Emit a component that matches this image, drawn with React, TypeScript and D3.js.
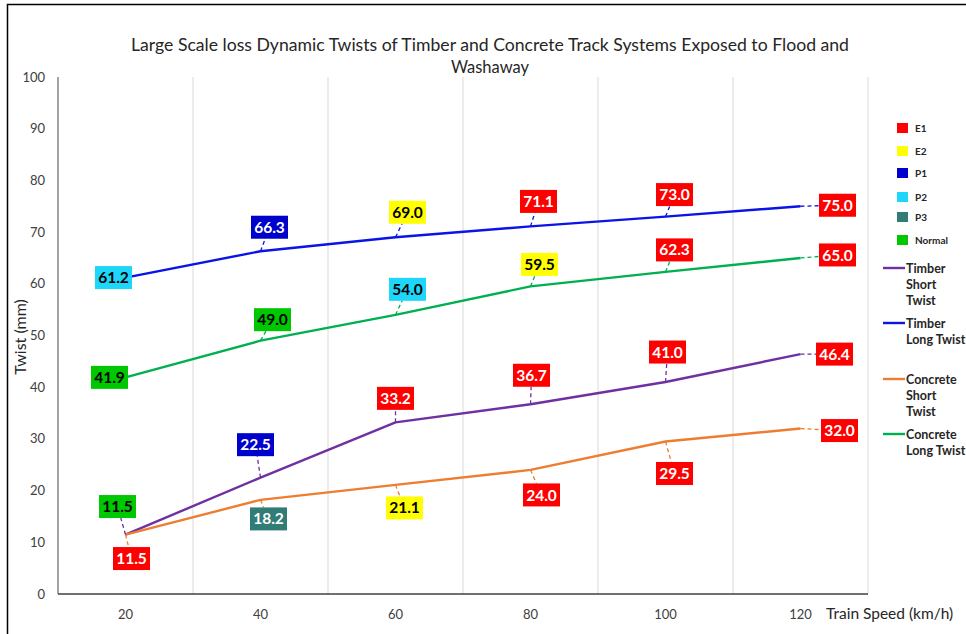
import React from 'react';
import * as d3 from 'd3';

const categories = ['20', '40', '60', '80', '100', '120'];
const timberShort = [11.5, 22.5, 33.2, 36.7, 41.0, 46.4];
const timberLong = [61.2, 66.3, 69.0, 71.1, 73.0, 75.0];
const concreteShort = [11.5, 18.2, 21.1, 24.0, 29.5, 32.0];
const concreteLong = [41.9, 49.0, 54.0, 59.5, 62.3, 65.0];

const timberShortClass = ['Normal', 'P1', 'E1', 'E1', 'E1', 'E1'];
const timberLongClass = ['P2', 'P1', 'E2', 'E1', 'E1', 'E1'];
const concreteShortClass = ['E1', 'P3', 'E2', 'E1', 'E1', 'E1'];
const concreteLongClass = ['Normal', 'Normal', 'P2', 'E2', 'E1', 'E1'];

const yTicks = [0, 10, 20, 30, 40, 50, 60, 70, 80, 90, 100];
const classNames = ['E1', 'E2', 'P1', 'P2', 'P3', 'Normal'];
const seriesNames = ['Timber Short Twist', 'Timber Long Twist', 'Concrete Short Twist', 'Concrete Long Twist'];

const title1 = 'Large Scale loss Dynamic Twists of Timber and Concrete Track Systems Exposed to Flood and';
const title2 = 'Washaway';

// styling / layout (not data)
const classFill: Record<string, string> = {
  E1: '#ff0000', E2: '#ffff00', P1: '#0000cc', P2: '#1ed6fa', P3: '#317c77', Normal: '#00c800',
};
const classText: Record<string, string> = {
  E1: '#ffffff', E2: '#000000', P1: '#ffffff', P2: '#000000', P3: '#ffffff', Normal: '#000000',
};
const seriesColor = ['#7030a0', '#0a14e6', '#ed7d31', '#00b050'];
// label centre offsets (px) relative to the data point
const labelOffsets: [number, number][][] = [
  [[-8, -28], [-5, -33], [0, -24], [1, -29], [2, -30], [34, 0]],
  [[-12, 0], [9, -24], [12, -25], [8, -25], [9, -22], [37, -1]],
  [[6, 24], [8, 19], [9, 23], [11, 25], [9, 32], [39, 2]],
  [[-16, 0], [12, -21], [12, -25.5], [9, -22], [9, -22], [37, -3]],
];
const legendLineY = [[268, 284, 300], [323, 339], [379, 395, 411], [434, 450]];
const legendLines = [['Timber', 'Short', 'Twist'], ['Timber', 'Long Twist'], ['Concrete', 'Short', 'Twist'], ['Concrete', 'Long Twist']];
const legendSquareY = [128, 151, 173, 197, 217, 240];

const FONT = 'Lato, "Open Sans", sans-serif';

export default function App() {
  const W = 966, H = 634;
  const x = d3.scaleBand().domain(categories).range([58, 868]);
  const y = d3.scaleLinear().domain([0, 100]).range([594, 77]);
  const cx = (c: string) => (x(c) as number) + x.bandwidth() / 2;

  const seriesData = [timberShort, timberLong, concreteShort, concreteLong];
  const seriesClass = [timberShortClass, timberLongClass, concreteShortClass, concreteLongClass];

  const line = d3.line<number>().x((_, i) => cx(categories[i])).y((d) => y(d));

  const BW = 37, BH = 23;

  const labels: React.ReactNode[] = [];
  const leaders: React.ReactNode[] = [];
  seriesData.forEach((vals, si) => {
    vals.forEach((v, i) => {
      const px = cx(categories[i]);
      const py = y(v);
      const [dx, dy] = labelOffsets[si][i];
      const lx = px + dx, ly = py + dy;
      const hw = BW / 2, hh = BH / 2;
      const adx = Math.abs(dx), ady = Math.abs(dy);
      if (adx > hw || ady > hh) {
        const t = Math.min(adx > 0 ? hw / adx : Infinity, ady > 0 ? hh / ady : Infinity);
        const ex = lx - dx * t, ey = ly - dy * t;
        leaders.push(
          <line key={`ld${si}-${i}`} x1={px} y1={py} x2={ex} y2={ey}
            stroke={seriesColor[si]} strokeWidth={1.3} strokeDasharray="4,3" />
        );
      }
      const cls = seriesClass[si][i];
      labels.push(
        <g key={`lb${si}-${i}`}>
          <rect x={lx - hw} y={ly - hh} width={BW} height={BH} fill={classFill[cls]} />
          <text x={lx} y={ly} dy="0.36em" textAnchor="middle" fontFamily={FONT}
            fontWeight={700} fontSize={15.5} fill={classText[cls]}>{v.toFixed(1)}</text>
        </g>
      );
    });
  });

  return (
    <svg width={W} height={H} style={{ position: 'absolute', left: 0, top: 0, background: '#fff' }}
      fontFamily={FONT}>
      <rect x={0} y={0} width={W} height={H} fill="#fff" />
      <path d={`M7.5,${H} V4.5 H${W}`} fill="none" stroke="#000" strokeWidth={1.5} />
      <text x={490} y={51} textAnchor="middle" fontSize={16.5} fill="#262626"
        textLength={718} lengthAdjust="spacingAndGlyphs">{title1}</text>
      <text x={490} y={73} textAnchor="middle" fontSize={16.5} fill="#262626">{title2}</text>

      {categories.map((c) => (
        <line key={`g${c}`} x1={(x(c) as number) + x.bandwidth()} x2={(x(c) as number) + x.bandwidth()}
          y1={77} y2={594} stroke="#d9d9d9" strokeWidth={1} />
      ))}
      <line x1={58} x2={58} y1={77} y2={594} stroke="#868686" strokeWidth={1.5} />
      <line x1={58} x2={868} y1={594} y2={594} stroke="#404040" strokeWidth={1.5} />

      {yTicks.map((t) => (
        <text key={`y${t}`} x={45} y={y(t)} dy="0.35em" textAnchor="end" fontSize={13} fill="#404040">{t}</text>
      ))}
      {categories.map((c) => (
        <text key={`x${c}`} x={cx(c)} y={614} dy="0.35em" textAnchor="middle" fontSize={13} fill="#404040">{c}</text>
      ))}
      <text x={826} y={614} dy="0.35em" fontSize={15.5} fill="#262626">Train Speed (km/h)</text>
      <text transform={`translate(20,337) rotate(-90)`} textAnchor="middle" dy="0.35em" fontSize={16} fill="#262626">Twist (mm)</text>

      {seriesData.map((vals, si) => (
        <path key={`s${si}`} d={line(vals) as string} fill="none" stroke={seriesColor[si]} strokeWidth={2.4}
          strokeLinejoin="round" />
      ))}
      {leaders}
      {labels}

      {classNames.map((n, i) => (
        <g key={`lc${n}`}>
          <rect x={897} y={legendSquareY[i] - 5} width={11} height={10} fill={classFill[n]} />
          <text x={915} y={legendSquareY[i]} dy="0.38em" fontSize={10} fontWeight={700} fill="#262626">{n}</text>
        </g>
      ))}
      {seriesNames.map((n, si) => (
        <g key={`ls${si}`}>
          <line x1={883} x2={905} y1={legendLineY[si][0]} y2={legendLineY[si][0]} stroke={seriesColor[si]} strokeWidth={2.4} />
          {legendLines[si].map((t, k) => (
            <text key={k} x={906} y={legendLineY[si][k]} dy="0.36em" fontSize={12.5} fontWeight={700} fill="#262626">{t}</text>
          ))}
        </g>
      ))}
    </svg>
  );
}
